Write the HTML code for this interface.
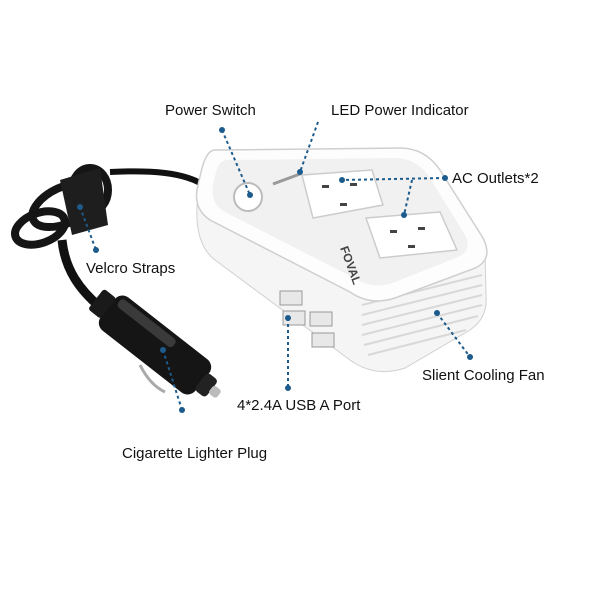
<!DOCTYPE html>
<html><head><meta charset="utf-8"><style>
html,body{margin:0;padding:0;background:#fff;}
svg{display:block;}
text{font-family:"Liberation Sans",sans-serif;font-size:15px;fill:#111;}
</style></head><body>
<svg width="600" height="600" viewBox="0 0 600 600" xmlns="http://www.w3.org/2000/svg">
<!-- cable -->
<path d="M205,186 C185,172 150,170 110,172" stroke="#111" stroke-width="6" fill="none"/>
<g fill="none" stroke="#151515" stroke-width="8">
<ellipse cx="40" cy="228" rx="26" ry="15" transform="rotate(-20 40 228)"/>
<ellipse cx="65" cy="205" rx="35" ry="18" transform="rotate(-25 65 205)"/>
<ellipse cx="90" cy="190" rx="18" ry="22"/>
</g>
<path d="M60,180 L100,168 L108,225 L72,235 Z" fill="#1e1e1e"/>
<path d="M62,240 C65,270 80,290 100,307" stroke="#111" stroke-width="9" fill="none"/>
<!-- plug -->
<g transform="rotate(38 155 345)">
<rect x="95" y="324" width="120" height="42" rx="10" fill="#151515"/>
<rect x="100" y="328" width="70" height="10" rx="4" fill="#3a3a3a"/>
<rect x="213" y="334" width="14" height="22" rx="4" fill="#222"/>
<rect x="226" y="340" width="10" height="10" rx="3" fill="#bbb"/>
<rect x="80" y="332" width="16" height="26" rx="3" fill="#1a1a1a"/>
</g>
<path d="M140,365 Q150,385 165,392" stroke="#aaa" stroke-width="3" fill="none"/>
<!-- body sides -->
<path d="M197,205 Q195,245 215,260 L350,360 Q375,378 405,368 L470,330 Q488,318 486,295 L485,250 L375,295 Z" fill="#f5f5f5" stroke="#d0d0d0"/>
<g stroke="#d8d8d8" stroke-width="2">
<line x1="362" y1="305" x2="482" y2="275"/><line x1="362" y1="315" x2="482" y2="285"/>
<line x1="362" y1="325" x2="482" y2="295"/><line x1="362" y1="335" x2="482" y2="305"/>
<line x1="364" y1="345" x2="478" y2="316"/><line x1="368" y1="355" x2="466" y2="330"/>
</g>
<!-- top face -->
<path d="M215,150 L400,148 Q425,148 440,170 L483,238 Q495,262 470,270 L395,298 Q370,306 350,292 L210,220 Q192,208 198,185 L202,168 Q207,150 215,150 Z" fill="#fdfdfd" stroke="#cfcfcf" stroke-width="1.5"/>
<path d="M228,160 L395,158 Q415,158 428,175 L465,235 Q473,250 458,257 L395,282 Q375,290 358,280 L225,212 Q210,204 213,185 L216,172 Q219,160 228,160 Z" fill="#f1f1f1"/>
<!-- power switch -->
<circle cx="248" cy="197" r="14" fill="#fff" stroke="#bbb" stroke-width="2"/>
<line x1="273" y1="184" x2="300" y2="174" stroke="#999" stroke-width="3"/>
<!-- outlets -->
<path d="M302,175 L372,170 L383,205 L313,218 Z" fill="#fff" stroke="#ccc" stroke-width="1.5"/>
<path d="M366,218 L440,212 L457,250 L380,258 Z" fill="#fff" stroke="#ccc" stroke-width="1.5"/>
<g fill="#444"><rect x="322" y="185" width="7" height="3"/><rect x="350" y="183" width="7" height="3"/><rect x="340" y="203" width="7" height="3"/>
<rect x="390" y="230" width="7" height="3"/><rect x="418" y="227" width="7" height="3"/><rect x="408" y="245" width="7" height="3"/></g>
<text x="340" y="248" style="font-size:12px;font-weight:bold;fill:#444" transform="rotate(70 340 248)">FOVAL</text>
<!-- USB ports -->
<g fill="#e8e8e8" stroke="#999"><rect x="280" y="291" width="22" height="14"/><rect x="310" y="312" width="22" height="14"/>
<rect x="283" y="311" width="22" height="14"/><rect x="312" y="333" width="22" height="14"/></g>
<!-- leaders -->
<g stroke="#1c5b8c" stroke-width="2" stroke-dasharray="3,3" fill="none">
<line x1="222" y1="130" x2="250" y2="195"/>
<line x1="318" y1="122" x2="300" y2="172"/>
<line x1="445" y1="178" x2="342" y2="180"/><line x1="412" y1="180" x2="404" y2="215"/>
<line x1="80" y1="207" x2="96" y2="250"/>
<line x1="437" y1="313" x2="470" y2="357"/>
<line x1="288" y1="318" x2="288" y2="388"/>
<line x1="163" y1="350" x2="182" y2="410"/>
</g>
<g fill="#1c5b8c"><circle cx="222" cy="130" r="3"/><circle cx="250" cy="195" r="3"/><circle cx="300" cy="172" r="3"/><circle cx="342" cy="180" r="3"/><circle cx="404" cy="215" r="3"/><circle cx="445" cy="178" r="3"/><circle cx="80" cy="207" r="3"/><circle cx="96" cy="250" r="3"/><circle cx="437" cy="313" r="3"/><circle cx="470" cy="357" r="3"/><circle cx="288" cy="318" r="3"/><circle cx="288" cy="388" r="3"/><circle cx="163" cy="350" r="3"/><circle cx="182" cy="410" r="3"/></g>
<!-- labels -->
<text x="165" y="115">Power Switch</text>
<text x="331" y="115">LED Power Indicator</text>
<text x="452" y="183">AC Outlets*2</text>
<text x="86" y="273">Velcro Straps</text>
<text x="422" y="380">Slient Cooling Fan</text>
<text x="237" y="410">4*2.4A USB A Port</text>
<text x="122" y="458">Cigarette Lighter Plug</text>
</svg>
</body></html>
